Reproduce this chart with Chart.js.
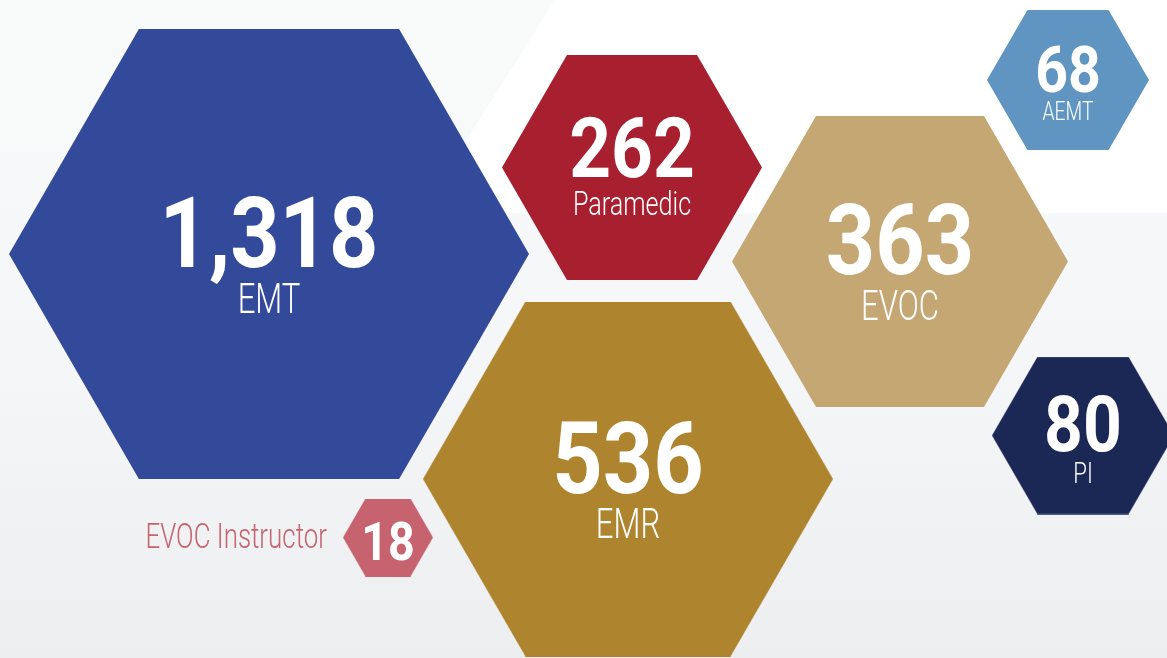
<!DOCTYPE html>
<html>
<head>
<meta charset="utf-8">
<script src="https://cdn.jsdelivr.net/npm/chart.js@4.4.1/dist/chart.umd.min.js"></script>
<style>
  html, body { margin: 0; padding: 0; background: #f6f7f8; }
  #wrap { width: 1167px; height: 658px; position: relative; }
</style>
</head>
<body>
<div id="wrap"><canvas id="hexChart"></canvas></div>
<script>
// data
const categories = ["EMT", "Paramedic", "EVOC", "AEMT", "PI", "EMR", "EVOC Instructor"];
const counts = [1318, 262, 363, 68, 80, 536, 18];

// layout (axis units = px of the 1167x658 frame)
const posX = [269, 632, 900, 1068, 1083, 628, 388];
const posY = [254, 167.5, 261.5, 80, 435.5, 479, 537.5];
const hexR = [260, 130, 168, 81, 91, 205, 45];

// styles
const colors = ["#334a9b", "#a81f30", "#c5a774", "#5f95c0", "#1b2855", "#ae842e", "#c6636f"];
const numSize = [98, 83, 98, 65, 77, 100, 53];
const numDy = [13, 9.5, 12.5, 12, 15.5, 14, 22];
const labelSize = [42, 34, 42, 26, 30, 42, 35];
const labelDy = [59, 47.5, 58.5, 40, 47.5, 59, 0];

const NUM_SQUEEZE = 0.88;
const LABEL_SQUEEZE = 0.74;

function hexImage(r, color) {
  const h = Math.sqrt(3) * r;
  const c = document.createElement("canvas");
  c.width = Math.round(2 * r);
  c.height = Math.round(h);
  const g = c.getContext("2d");
  const cx = c.width / 2, cy = c.height / 2;
  g.fillStyle = color;
  g.beginPath();
  for (let k = 0; k < 6; k++) {
    const a = (Math.PI / 3) * k;
    const px = cx + r * Math.cos(a);
    const py = cy + r * Math.sin(a);
    if (k === 0) g.moveTo(px, py);
    else g.lineTo(px, py);
  }
  g.closePath();
  g.fill();
  return c;
}

function squeezedText(ctx, text, x, y, squeeze) {
  ctx.save();
  ctx.translate(x, y);
  ctx.scale(squeeze, 1);
  ctx.fillText(text, 0, 0);
  ctx.restore();
}

const backdrop = {
  id: "backdrop",
  beforeDraw(chart) {
    const { ctx, width, height } = chart;
    ctx.save();
    const grad = ctx.createLinearGradient(0, 0, 0, height);
    grad.addColorStop(0, "#f9fafa");
    grad.addColorStop(0.55, "#f5f6f7");
    grad.addColorStop(1, "#eceef0");
    ctx.fillStyle = grad;
    ctx.fillRect(0, 0, width, height);
    ctx.fillStyle = "#ffffff";
    ctx.beginPath();
    ctx.moveTo(555, 0);
    ctx.lineTo(width, 0);
    ctx.lineTo(width, 213);
    ctx.lineTo(420, 213);
    ctx.closePath();
    ctx.fill();
    ctx.restore();
  }
};

const hexLabels = {
  id: "hexLabels",
  afterDatasetsDraw(chart) {
    const { ctx } = chart;
    const meta = chart.getDatasetMeta(0);
    ctx.save();
    ctx.textAlign = "center";
    ctx.textBaseline = "alphabetic";
    meta.data.forEach((pt, i) => {
      ctx.fillStyle = "#ffffff";
      ctx.font = `700 ${numSize[i]}px Roboto, "Open Sans", sans-serif`;
      squeezedText(ctx, counts[i].toLocaleString("en-US"), pt.x, pt.y + numDy[i], NUM_SQUEEZE);

      ctx.font = `300 ${labelSize[i]}px Roboto, "Open Sans", sans-serif`;
      if (categories[i] === "EVOC Instructor") {
        ctx.fillStyle = colors[i];
        ctx.textAlign = "right";
        squeezedText(ctx, categories[i], pt.x - 61, pt.y + 10.5, LABEL_SQUEEZE);
        ctx.textAlign = "center";
      } else {
        squeezedText(ctx, categories[i], pt.x, pt.y + labelDy[i], LABEL_SQUEEZE);
      }
    });
    ctx.restore();
  }
};

const points = categories.map((c, i) => ({ x: posX[i], y: posY[i] }));

new Chart(document.getElementById("hexChart"), {
  type: "scatter",
  data: {
    labels: categories,
    datasets: [
      {
        data: points,
        pointStyle: hexR.map((r, i) => hexImage(r, colors[i])),
        pointRadius: hexR,
        pointHoverRadius: hexR,
        clip: false
      }
    ]
  },
  options: {
    responsive: true,
    maintainAspectRatio: false,
    animation: false,
    layout: { padding: 0, autoPadding: false },
    plugins: {
      legend: { display: false },
      tooltip: { enabled: false }
    },
    events: [],
    scales: {
      x: { type: "linear", min: 0, max: 1167, display: false },
      y: { type: "linear", min: 0, max: 658, reverse: true, display: false }
    }
  },
  plugins: [backdrop, hexLabels]
});
</script>
</body>
</html>
